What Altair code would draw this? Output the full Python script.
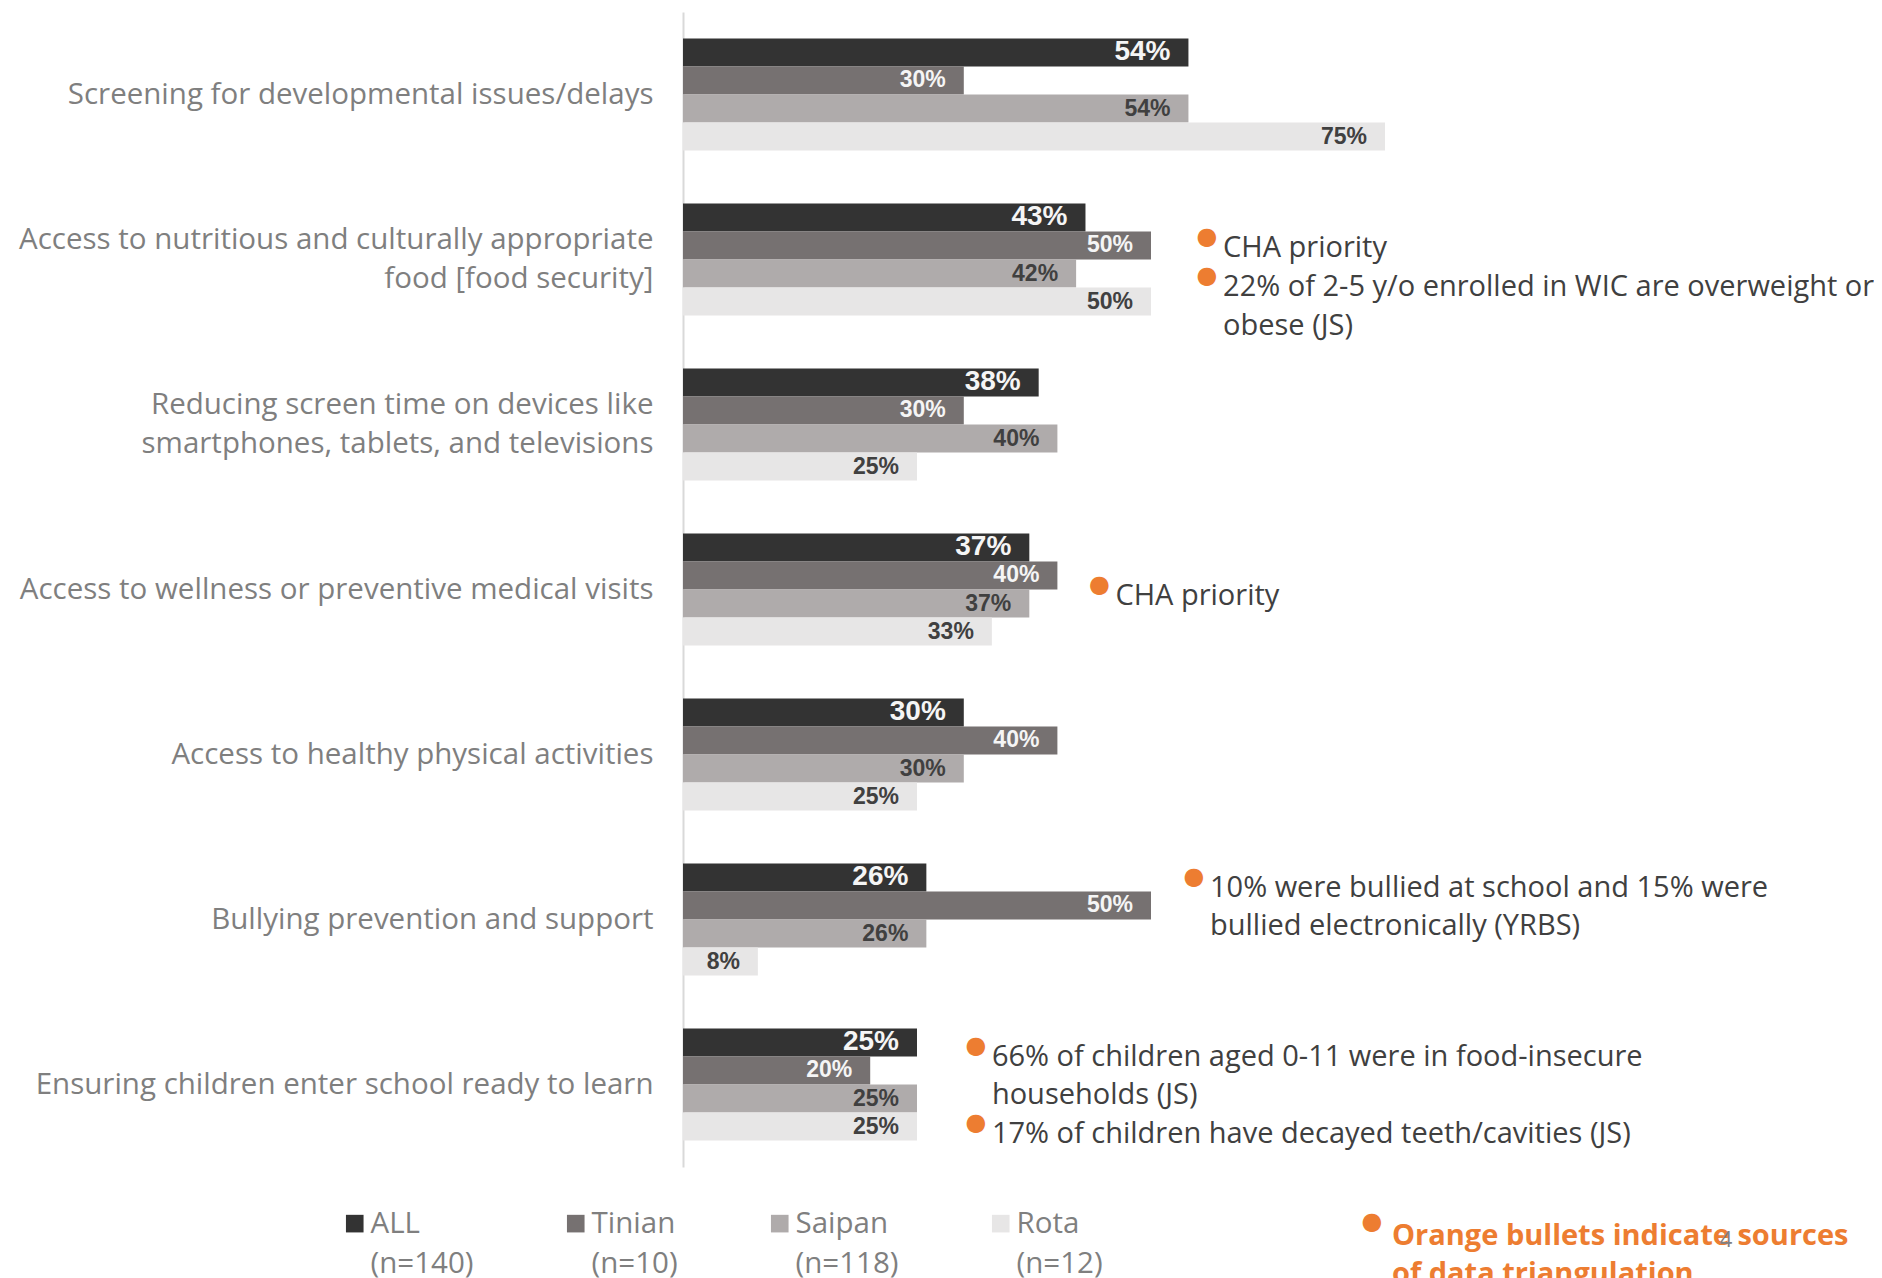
import altair as alt
import pandas as pd

FONT = "Open Sans"
LABEL_FONT = "Liberation Sans"

categories = [
    "Screening for developmental issues/delays",
    "Access to nutritious and culturally appropriate|food [food security]",
    "Reducing screen time on devices like|smartphones, tablets, and televisions",
    "Access to wellness or preventive medical visits",
    "Access to healthy physical activities",
    "Bullying prevention and support",
    "Ensuring children enter school ready to learn",
]
series = ["ALL", "Tinian", "Saipan", "Rota"]
series_n = ["(n=140)", "(n=10)", "(n=118)", "(n=12)"]
vals_all = [54, 43, 38, 37, 30, 26, 25]
vals_tinian = [30, 50, 30, 40, 40, 50, 20]
vals_saipan = [54, 42, 40, 37, 30, 26, 25]
vals_rota = [75, 50, 25, 33, 25, 8, 25]
colors = ["#333333", "#767171", "#AFABAB", "#E7E6E6"]

# annotations (category, x in % units, text, has bullet)
ann_category = [categories[1], categories[1], categories[1], categories[3],
                categories[5], categories[5], categories[6], categories[6], categories[6]]
ann_x = [57.7, 57.7, 57.7, 46.2, 56.3, 56.3, 33.0, 33.0, 33.0]
ann_text = [
    "CHA priority",
    "22% of 2-5 y/o enrolled in WIC are overweight or",
    "obese (JS)",
    "CHA priority",
    "10% were bullied at school and 15% were",
    "bullied electronically (YRBS)",
    "66% of children aged 0-11 were in food-insecure",
    "households (JS)",
    "17% of children have decayed teeth/cavities (JS)",
]
ann_bullet = [True, True, False, True, True, False, True, False, True]
# vertical line offsets (px) from the group centre
ann_dy = [-12, 27, 66, 6, -32, 6, -28, 10, 49]

footer_lines = ["Orange bullets indicate sources", "of data triangulation"]

rows = []
all_vals = [vals_all, vals_tinian, vals_saipan, vals_rota]
for s, n, vs in zip(series, series_n, all_vals):
    for c, v in zip(categories, vs):
        rows.append({"category": c, "series": s, "key": f"{s}|{n}", "value": v, "label": f"{v}%"})
df = pd.DataFrame(rows)
key_order = [f"{s}|{n}" for s, n in zip(series, series_n)]

y_enc = alt.Y(
    "category:N", sort=categories,
    scale=alt.Scale(paddingInner=0.32, paddingOuter=0.16),
    axis=alt.Axis(title=None, labelExpr="split(datum.label, '|')", ticks=False, tickSize=0,
                  labelPadding=30, labelFontSize=29.5, labelColor="#7f7f7f", labelFont=FONT,
                  labelLineHeight=38.4, domainColor="#d9d9d9", domainWidth=2, labelLimit=900,
                  labelOffset={"condition": {"test": "indexof(datum.label, '|') >= 0", "value": -19.2}, "value": 0}),
)
x_enc = alt.X("value:Q", scale=alt.Scale(domain=[0, 100]), axis=None)
yoff = alt.YOffset("series:N", sort=series, scale=alt.Scale(paddingInner=0, paddingOuter=0))

bars = alt.Chart(df).mark_bar().encode(
    y=y_enc, x=x_enc, yOffset=yoff,
    color=alt.Color("key:N", sort=key_order,
                    scale=alt.Scale(domain=key_order, range=colors),
                    legend=alt.Legend(title=None, orient="none", legendX=-343, legendY=1196.5,
                                      direction="horizontal", symbolType="square", symbolSize=310,
                                      symbolStrokeWidth=0, labelFontSize=29.5, labelFont=FONT,
                                      labelColor="#7f7f7f", labelOffset=1, columnPadding=87,
                                      labelExpr="split(datum.label, '|')", labelLimit=400)),
)

labels = alt.Chart(df).mark_text(align="right", baseline="middle", dx=-18, fontWeight="bold", font=LABEL_FONT).encode(
    y=y_enc, x=x_enc, yOffset=yoff, text="label:N",
    color=alt.condition("datum.series == 'ALL' || datum.series == 'Tinian'", alt.value("#f5f5f5"), alt.value("#404040")),
    size=alt.condition("datum.series == 'ALL'", alt.value(28), alt.value(23)),
)

layers = [bars, labels]
for c, xv, t, b, dy in zip(ann_category, ann_x, ann_text, ann_bullet, ann_dy):
    d = pd.DataFrame({"category": [c], "value": [xv], "t": [t]})
    layers.append(alt.Chart(d).mark_text(align="left", baseline="middle", dy=dy, fontSize=29,
                                         color="#404040", font=FONT).encode(x=x_enc, y=y_enc, text="t:N"))
    if b:
        layers.append(alt.Chart(d).mark_text(align="center", baseline="middle", dy=dy - 11, dx=-16,
                                             fontSize=24, font="DejaVu Sans", color="#ED7D31",
                                             text="\u25CF").encode(x=x_enc, y=y_enc))

fd = pd.DataFrame({"t": [footer_lines]})
footer = alt.Chart(fd).mark_text(align="left", baseline="middle", fontSize=29, fontWeight="bold",
                                 color="#ED7D31", font=FONT, lineHeight=38).encode(
    x=alt.value(709), y=alt.value(1224), text="t")
footer_bullet = alt.Chart(pd.DataFrame({"t": ["\u25CF"]})).mark_text(
    align="center", baseline="middle", fontSize=24, font="DejaVu Sans", color="#ED7D31").encode(
    x=alt.value(689), y=alt.value(1210), text="t:N")
page_no = alt.Chart(pd.DataFrame({"t": ["4"]})).mark_text(
    align="center", baseline="middle", fontSize=22, color="#808080", font=FONT).encode(
    x=alt.value(1043), y=alt.value(1228), text="t:N")
layers += [footer, footer_bullet, page_no]

chart = alt.layer(*layers).properties(
    width=936, height=1155,
    autosize=alt.AutoSizeParams(type="none"),
    padding={"left": 675, "top": 4, "right": 255, "bottom": 125},
    background="white",
).configure(
    font=FONT,
    view=alt.ViewConfig(stroke=None),
    style={"guide-label": {"lineHeight": 40}},
)

chart.save("out.html", embed_options={"renderer": "svg", "actions": False})
